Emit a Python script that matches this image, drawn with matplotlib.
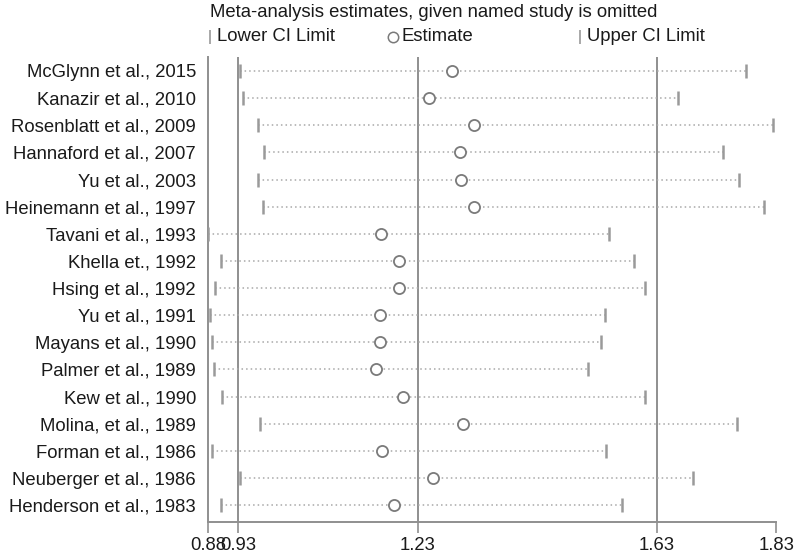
import matplotlib.pyplot as plt
from matplotlib.lines import Line2D

# omitted-study labels, top to bottom
studies = [
    "McGlynn et al., 2015", "Kanazir et al., 2010", "Rosenblatt et al., 2009",
    "Hannaford et al., 2007", "Yu et al., 2003", "Heinemann et al., 1997",
    "Tavani et al., 1993", "Khella et., 1992", "Hsing et al., 1992",
    "Yu et al., 1991", "Mayans et al., 1990", "Palmer et al., 1989",
    "Kew et al., 1990", "Molina, et al., 1989", "Forman et al., 1986",
    "Neuberger et al., 1986", "Henderson et al., 1983",
]
lower = [0.932, 0.937, 0.963, 0.973, 0.963, 0.972, 0.880, 0.901, 0.891,
         0.883, 0.886, 0.889, 0.903, 0.966, 0.886, 0.933, 0.901]
estimate = [1.287, 1.249, 1.325, 1.301, 1.303, 1.325, 1.169, 1.199, 1.199,
            1.167, 1.167, 1.160, 1.205, 1.306, 1.170, 1.256, 1.190]
upper = [1.779, 1.665, 1.825, 1.740, 1.767, 1.809, 1.550, 1.592, 1.611,
         1.544, 1.536, 1.515, 1.611, 1.765, 1.545, 1.691, 1.571]

ref_lines = [0.93, 1.23, 1.63]
xticks = [0.88, 0.93, 1.23, 1.63, 1.83]

plt.rcParams["font.family"] = ["Liberation Sans", "DejaVu Sans"]
txt_color = "#1a1a1a"
line_grey = "#8f8f8f"
dot_grey = "#a8a8a8"
fs = 13.3

fig = plt.figure(figsize=(8, 5.54), dpi=100)
ax = fig.add_axes([0.2606, 0.0578, 0.7098, 0.8393])

ypos = list(range(1, len(studies) + 1))

for x in ref_lines:
    ax.axvline(x, color=line_grey, lw=1.4, zorder=1)

for y, lo, hi in zip(ypos, lower, upper):
    ax.plot([lo, hi], [y, y], color=dot_grey, lw=1.1,
            linestyle=(0, (1, 2)), zorder=2)
ax.plot(lower, ypos, linestyle="none", marker="|", markersize=10,
        mew=1.8, color="#9a9a9a", zorder=3)
ax.plot(upper, ypos, linestyle="none", marker="|", markersize=10,
        mew=1.8, color="#9a9a9a", zorder=3)
ax.plot(estimate, ypos, linestyle="none", marker="o", markersize=8,
        mfc="white", mec="#7a7a7a", mew=1.3, zorder=4)

ax.set_xlim(0.88, 1.83)
ax.set_ylim(17.62, 0.486)
ax.set_yticks(ypos)
ax.set_yticklabels(studies, fontsize=fs, color=txt_color)
ax.tick_params(axis="y", length=0, pad=9)
ax.set_xticks(xticks)
ax.set_xticklabels([f"{v:.2f}" for v in xticks], fontsize=fs, color=txt_color)
ax.tick_params(axis="x", length=8, width=1.2, color=line_grey, pad=3)

for side in ["top", "right"]:
    ax.spines[side].set_visible(False)
for side in ["left", "bottom"]:
    ax.spines[side].set_color(line_grey)
    ax.spines[side].set_linewidth(1.4)

# title and legend strip above the plot
fig.text(0.263, 0.977, "Meta-analysis estimates, given named study is omitted",
         fontsize=fs, color=txt_color, ha="left", va="center")
leg_y = 0.934
fig.add_artist(Line2D([0.2625], [leg_y], marker="|", markersize=10, mew=1.2,
                      color="#9a9a9a", transform=fig.transFigure))
fig.text(0.271, leg_y, "Lower CI Limit", fontsize=fs, color=txt_color,
         ha="left", va="center")
fig.add_artist(Line2D([0.491], [leg_y], marker="o", markersize=7.5, mew=1.1,
                      mfc="white", mec="#7a7a7a", transform=fig.transFigure))
fig.text(0.502, leg_y, "Estimate", fontsize=fs, color=txt_color,
         ha="left", va="center")
fig.add_artist(Line2D([0.7245], [leg_y], marker="|", markersize=10, mew=1.2,
                      color="#9a9a9a", transform=fig.transFigure))
fig.text(0.734, leg_y, "Upper CI Limit", fontsize=fs, color=txt_color,
         ha="left", va="center")

fig.savefig("out.png", dpi=100)
